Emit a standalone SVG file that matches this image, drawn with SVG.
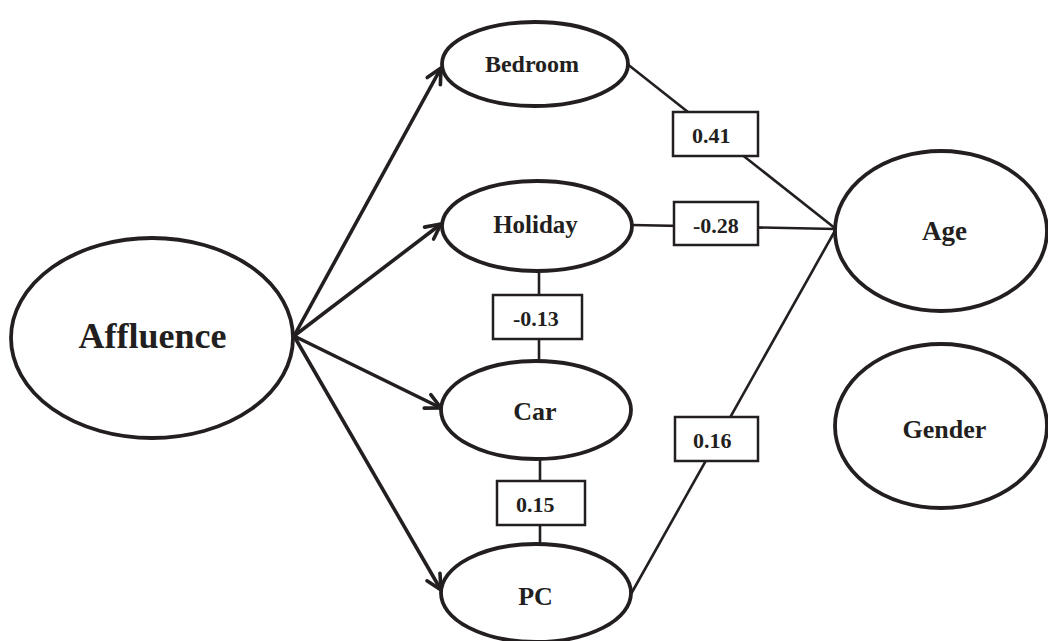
<svg xmlns="http://www.w3.org/2000/svg" width="1048" height="641" viewBox="0 0 1048 641">
<style>
.node ellipse{fill:#fff;stroke:#231f20;stroke-width:3.8}
.lbl{font-family:"Liberation Serif","Times New Roman",serif;font-weight:bold;fill:#231f20;font-size:26px;text-anchor:middle}
.box rect{fill:#fff;stroke:#231f20;stroke-width:2.5}
.box text{font-family:"Liberation Serif","Times New Roman",serif;font-weight:bold;fill:#231f20;font-size:22px}
.arrow{stroke:#231f20;stroke-width:3.6;fill:none;marker-end:url(#head)}
.link{stroke:#231f20;stroke-width:2.6;fill:none}
</style>
<defs>
<marker id="head" markerUnits="userSpaceOnUse" viewBox="-20 -12 24 24" refX="0" refY="0" markerWidth="24" markerHeight="24" orient="auto">
<path d="M -15 -7.5 L 0 0 L -15 7.5" fill="none" stroke="#231f20" stroke-width="3.6" stroke-linecap="round" stroke-linejoin="round"/>
</marker>
</defs>
<rect width="1048" height="641" fill="#fff"/>
<g id="connectors">
<line class="arrow" x1="294" y1="336" x2="441" y2="68"/>
<line class="arrow" x1="294" y1="336" x2="441" y2="224"/>
<line class="arrow" x1="294" y1="336" x2="441" y2="408"/>
<line class="arrow" x1="294" y1="336" x2="441" y2="590"/>
<line class="link" x1="626" y1="63" x2="836" y2="229"/>
<line class="link" x1="632" y1="225" x2="836" y2="229"/>
<line class="link" x1="631" y1="594" x2="836" y2="229"/>
<line class="link" x1="539" y1="270" x2="539" y2="362"/>
<line class="link" x1="540" y1="458" x2="540" y2="545"/>
</g>
<g id="node-affluence" class="node"><ellipse cx="152" cy="338" rx="141" ry="100"/><text class="lbl" x="152.5" y="348" style="font-size:36px">Affluence</text></g>
<g id="node-bedroom" class="node"><ellipse cx="535" cy="64" rx="93" ry="42"/><text class="lbl" x="532" y="72" style="font-size:24px">Bedroom</text></g>
<g id="node-holiday" class="node"><ellipse cx="537" cy="226" rx="95" ry="45"/><text class="lbl" x="535.5" y="233" style="font-size:25px">Holiday</text></g>
<g id="node-car" class="node"><ellipse cx="536" cy="410" rx="95" ry="49"/><text class="lbl" x="535" y="420">Car</text></g>
<g id="node-pc" class="node"><ellipse cx="536" cy="593" rx="95" ry="49"/><text class="lbl" x="535.5" y="605">PC</text></g>
<g id="node-age" class="node"><ellipse cx="941" cy="231" rx="106" ry="80"/><text class="lbl" x="944.5" y="240" style="font-size:27px">Age</text></g>
<g id="node-gender" class="node"><ellipse cx="941" cy="426" rx="106" ry="82"/><text class="lbl" x="944.5" y="438">Gender</text></g>
<g id="label-041" class="box"><rect x="673" y="112" width="85" height="44"/><text x="692" y="143">0.41</text></g>
<g id="label-028" class="box"><rect x="674" y="202" width="84" height="43"/><text x="693" y="233">-0.28</text></g>
<g id="label-016" class="box"><rect x="675" y="417" width="83" height="44"/><text x="693" y="448">0.16</text></g>
<g id="label-013" class="box"><rect x="493" y="295" width="89" height="44"/><text x="513" y="326">-0.13</text></g>
<g id="label-015" class="box"><rect x="497" y="481" width="88" height="44"/><text x="516" y="512">0.15</text></g>
</svg>
